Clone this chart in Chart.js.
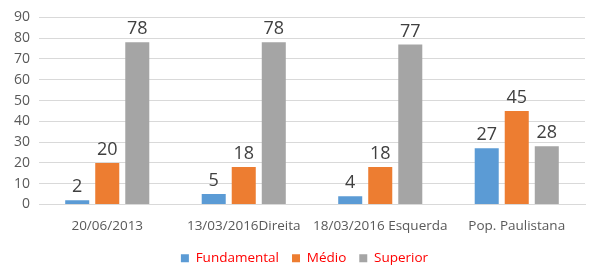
<!DOCTYPE html>
<html>
<head>
<meta charset="utf-8">
<script src="https://cdn.jsdelivr.net/npm/chart.js@4/dist/chart.umd.min.js"></script>
<style>
  html, body { margin: 0; padding: 0; background: #fff; }
  #wrap { width: 610px; height: 273px; }
</style>
</head>
<body>
<div id="wrap"><canvas id="myChart"></canvas></div>
<script>
const categories = ['20/06/2013', '13/03/2016Direita', '18/03/2016 Esquerda', 'Pop. Paulistana'];
const fundamental = [2, 5, 4, 27];
const medio = [20, 18, 18, 45];
const superior = [78, 78, 77, 28];
const yTicks = [0, 10, 20, 30, 40, 50, 60, 70, 80, 90];

// draws the value above each bar
const barLabels = {
  id: 'barLabels',
  afterDatasetsDraw(chart) {
    const ctx = chart.ctx;
    ctx.save();
    ctx.font = '18px "Open Sans", sans-serif';
    ctx.fillStyle = '#404040';
    ctx.textAlign = 'center';
    ctx.textBaseline = 'bottom';
    chart.data.datasets.forEach((ds, i) => {
      chart.getDatasetMeta(i).data.forEach((bar, j) => {
        ctx.fillText(ds.data[j], bar.x, bar.y - 4);
      });
    });
    ctx.restore();
  }
};

// legend in the original sits a bit right of the canvas centre
const shiftLegend = {
  id: 'shiftLegend',
  afterLayout(chart) {
    if (chart.legend) {
      chart.legend.left += 10;
      chart.legend.right += 10;
    }
  }
};

var ctx = document.getElementById('myChart').getContext('2d');
var myChart = new Chart(ctx, {
  type: 'bar',
  data: {
    labels: categories,
    datasets: [
      { label: 'Fundamental', data: fundamental, backgroundColor: '#5B9BD5' },
      { label: 'Médio', data: medio, backgroundColor: '#ED7D31' },
      { label: 'Superior', data: superior, backgroundColor: '#A5A5A5' }
    ]
  },
  options: {
    responsive: true,
    maintainAspectRatio: false,
    animation: false,
    layout: { padding: { top: 4, right: 25, left: 4, bottom: -2 } },
    datasets: { bar: { categoryPercentage: 0.66, barPercentage: 0.8 } },
    plugins: {
      legend: {
        position: 'bottom',
        labels: {
          boxWidth: 8, boxHeight: 8, padding: 13,
          color: '#FF0000',
          font: { family: '"Open Sans", sans-serif', size: 13.5 }
        }
      },
      tooltip: { enabled: false }
    },
    scales: {
      x: {
        grid: { display: false },
        border: { color: '#D9D9D9' },
        afterFit: (axis) => { axis.height = 34; },
        ticks: { color: '#595959', font: { family: '"Open Sans", sans-serif', size: 13.5 }, maxRotation: 0, autoSkip: false, padding: 6 }
      },
      y: {
        min: 0, max: 90,
        afterBuildTicks: (axis) => { axis.ticks = yTicks.map(v => ({ value: v })); },
        afterFit: (axis) => { axis.width = 35; },
        grid: { color: '#D9D9D9', drawTicks: false, tickLength: 0 },
        border: { display: false },
        ticks: { color: '#595959', font: { family: '"Open Sans", sans-serif', size: 14 }, autoSkip: false, padding: 9 }
      }
    }
  },
  plugins: [barLabels, shiftLegend]
});
</script>
</body>
</html>
